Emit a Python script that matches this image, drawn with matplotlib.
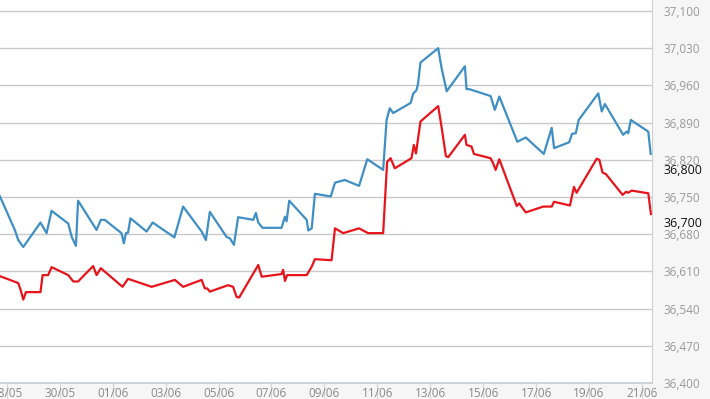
import matplotlib
matplotlib.use("Agg")
import matplotlib.pyplot as plt
import numpy as np

# days after 28/05 (fractional = intraday)
blue_t = [-0.26, 0.30, 0.43, 0.62, 1.27, 1.50, 1.69, 2.32, 2.45, 2.61, 2.69, 3.39, 3.55, 3.70,
          4.33, 4.42, 4.50, 4.58, 4.67, 5.28, 5.51, 6.33, 6.66, 7.36, 7.52, 7.67, 8.30, 8.43,
          8.58, 8.74, 9.31, 9.41, 9.50, 9.66, 10.38, 10.51, 10.57, 10.67, 11.33, 11.39, 11.52,
          11.64, 12.24, 12.40, 12.77, 13.31, 13.62, 14.22, 14.35, 14.47, 14.60, 15.26, 15.36,
          15.48, 15.54, 15.63, 16.30, 16.43, 16.62, 17.31, 17.37, 17.47, 18.28, 18.44, 18.61,
          19.29, 19.61, 20.29, 20.59, 20.68, 21.25, 21.36, 21.50, 21.61, 22.35, 22.48, 22.60,
          23.29, 23.42, 23.48, 23.58, 24.24, 24.33]
blue_v = [36751, 36688, 36669, 36656, 36702, 36682, 36724, 36700, 36675, 36658, 36743, 36688,
          36707, 36707, 36682, 36663, 36682, 36683, 36710, 36685, 36702, 36674, 36732, 36685,
          36669, 36722, 36675, 36672, 36660, 36712, 36707, 36720, 36702, 36692, 36692, 36713,
          36704, 36743, 36707, 36687, 36691, 36756, 36751, 36777, 36782, 36771, 36821, 36801,
          36895, 36917, 36908, 36927, 36945, 36951, 36964, 37003, 37030, 36992, 36949, 36996,
          36953, 36953, 36940, 36914, 36939, 36854, 36862, 36831, 36880, 36842, 36853, 36869,
          36870, 36895, 36945, 36911, 36925, 36867, 36873, 36870, 36895, 36873, 36831]

red_t = [-0.26, 0.43, 0.52, 0.62, 0.72, 1.27, 1.35, 1.56, 1.69, 2.32, 2.51, 2.69, 3.26, 3.39,
         3.55, 4.37, 4.58, 5.47, 6.35, 6.66, 7.36, 7.48, 7.57, 7.67, 8.36, 8.55, 8.68, 8.78,
         9.50, 9.63, 10.38, 10.44, 10.51, 10.59, 11.33, 11.52, 11.64, 12.27, 12.40, 12.71,
         13.31, 13.65, 14.22, 14.37, 14.50, 14.66, 15.29, 15.38, 15.46, 15.63, 16.30, 16.43,
         16.59, 16.68, 17.31, 17.37, 17.56, 17.65, 18.28, 18.38, 18.47, 18.61, 19.27, 19.36,
         19.61, 20.27, 20.59, 20.68, 21.28, 21.43, 21.53, 22.29, 22.39, 22.51, 22.64, 23.27,
         23.40, 23.48, 23.61, 24.24, 24.34]
red_v = [36601, 36588, 36575, 36557, 36571, 36571, 36603, 36603, 36618, 36603, 36591, 36591,
         36620, 36603, 36616, 36581, 36596, 36581, 36594, 36581, 36594, 36578, 36578, 36572,
         36584, 36581, 36562, 36561, 36622, 36600, 36605, 36613, 36592, 36603, 36603, 36619,
         36633, 36631, 36691, 36682, 36691, 36682, 36682, 36816, 36823, 36804, 36823, 36848,
         36832, 36892, 36921, 36881, 36827, 36825, 36867, 36848, 36845, 36831, 36823, 36813,
         36801, 36821, 36733, 36738, 36721, 36732, 36732, 36741, 36734, 36769, 36758, 36822,
         36820, 36796, 36793, 36754, 36760, 36758, 36762, 36757, 36718]

date_labels = ["28/05", "30/05", "01/06", "03/06", "05/06", "07/06", "09/06",
               "11/06", "13/06", "15/06", "17/06", "19/06", "21/06"]
y_ticks = [36400, 36470, 36540, 36610, 36680, 36750, 36820, 36890, 36960, 37030, 37100]

W, H = 710, 399
fig = plt.figure(figsize=(W / 100, H / 100), dpi=100, facecolor="#f6f6f6")
ax = fig.add_axes([0, 16 / H, 652 / W, 383 / H])
ax.set_facecolor("white")

ax.plot(blue_t, blue_v, color="#3f8fc4", lw=1.6, solid_joinstyle="round")
ax.plot(red_t, red_v, color="#e8141c", lw=1.6, solid_joinstyle="round")

ax.set_xlim(-0.26, 24.38)
ax.set_ylim(36400, 37120.7)

ax.set_yticks(y_ticks)
ax.set_yticklabels([f"{v:,}" for v in y_ticks])
ax.yaxis.tick_right()
ax.tick_params(axis="y", length=0, pad=8, labelsize=8.5, labelcolor="#9a9a9a")
ax.grid(axis="y", color="#c9c9c9", lw=1)

ax.set_xticks(np.arange(0, 25, 2))
ax.set_xticklabels(date_labels)
ax.tick_params(axis="x", length=10.5, width=0.8, color="#cfd6dd", pad=-7.5,
               labelsize=8.5, labelcolor="#8a8a8a")

for lab in ax.get_xticklabels() + ax.get_yticklabels():
    lab.set_family(["Open Sans", "DejaVu Sans"])

for s in ["left", "top"]:
    ax.spines[s].set_visible(False)
ax.spines["right"].set_color("#d0d0d0")
ax.spines["bottom"].set_color("#c5ced6")
ax.spines["bottom"].set_linewidth(1.2)

# last-value markers on the right scale (rounded to hundreds)
for last in (blue_v[-1], red_v[-1]):
    v = int(round(last, -2))
    ax.annotate(f"{v:,}", xy=(1, v), xycoords=("axes fraction", "data"),
                xytext=(8, 0), textcoords="offset points", va="center", ha="left",
                fontsize=9, color="#111111", family=["Open Sans", "DejaVu Sans"],
                annotation_clip=False)

fig.savefig("out.png", dpi=100, facecolor=fig.get_facecolor())
